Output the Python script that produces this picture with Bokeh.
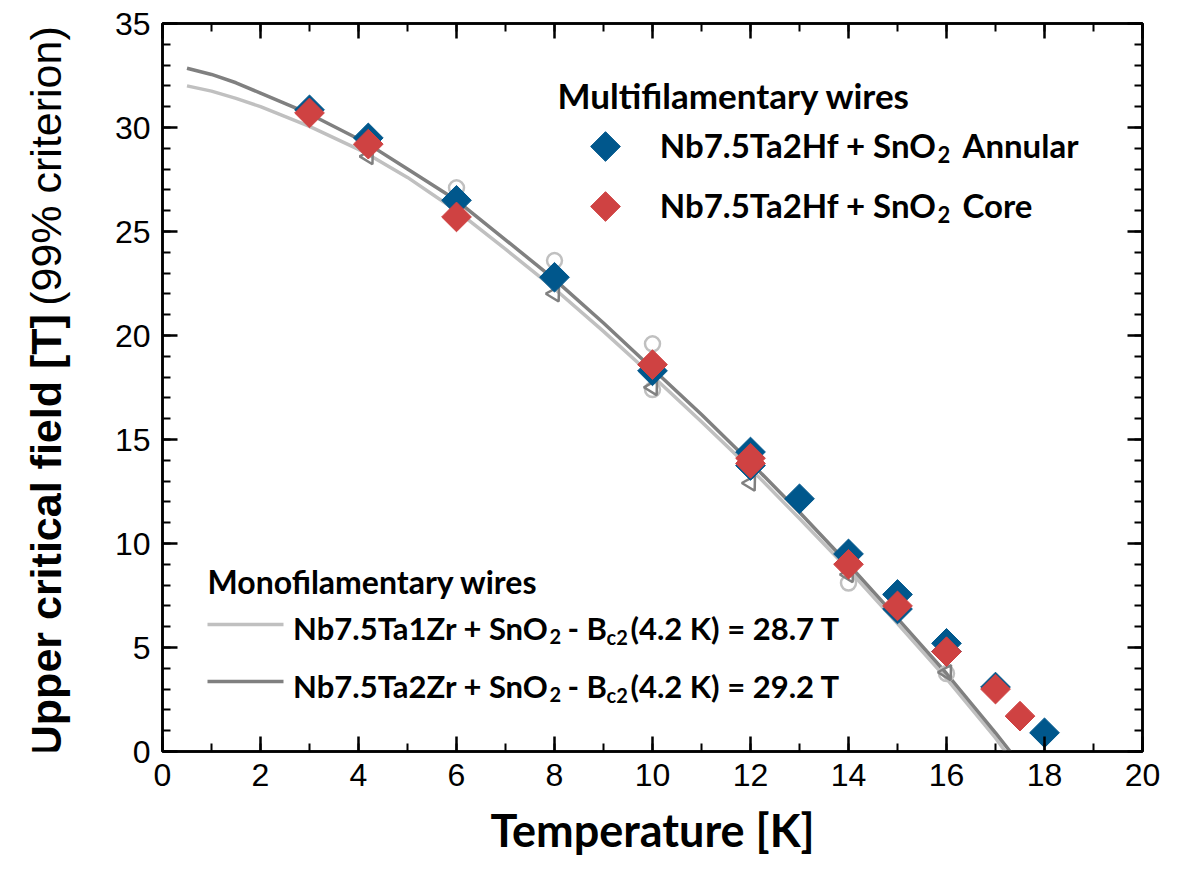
import math
from bokeh.plotting import figure
from bokeh.layouts import row
from bokeh.models import Range1d, SingleIntervalTicker, LinearAxis, Label, CustomJSTickFormatter
from bokeh.embed import file_html
from bokeh.resources import INLINE

# ---- data -------------------------------------------------------------
# Bc2(T) fit curves of the monofilamentary wires
fit_1zr_T = [0.5, 1, 1.5, 2, 3, 4, 4.2, 5, 6, 7, 8, 9, 10, 11, 12, 13, 14, 15, 16, 17, 17.2]
fit_1zr_B = [32.0, 31.75, 31.4, 31.0, 30.05, 28.95, 28.7, 27.6, 26.0, 24.15, 22.25, 20.2,
             18.05, 15.85, 13.6, 11.2, 8.75, 6.15, 3.5, 0.65, 0.0]
fit_2zr_T = [0.5, 1, 1.5, 2, 3, 4, 4.2, 5, 6, 7, 8, 9, 10, 11, 12, 13, 14, 15, 16, 17, 17.3]
fit_2zr_B = [32.85, 32.55, 32.15, 31.65, 30.65, 29.45, 29.2, 28.0, 26.5, 24.6, 22.7, 20.6,
             18.4, 16.2, 13.9, 11.5, 9.0, 6.4, 3.75, 0.9, 0.0]

# measured points of the monofilamentary wires
mono_circ_T = [6, 8, 10, 10, 14, 16]
mono_circ_B = [27.1, 23.6, 19.6, 17.4, 8.1, 3.75]
mono_tri_T = [4.2, 8, 10, 12, 14, 16]
mono_tri_B = [28.6, 22.0, 17.5, 12.9, 8.5, 3.8]

# multifilamentary wires
annular_T = [3, 4.2, 6, 8, 10, 12, 12, 13, 14, 15, 15, 16, 16, 17, 18]
annular_B = [30.85, 29.5, 26.5, 22.8, 18.3, 14.4, 13.75, 12.15, 9.5, 7.55, 6.85,
             5.2, 4.8, 3.1, 0.9]
core_T = [3, 4.2, 6, 10, 12, 12, 14, 15, 16, 17, 17.5]
core_B = [30.7, 29.2, 25.7, 18.6, 14.1, 13.85, 9.0, 7.0, 4.8, 3.0, 1.7]

x_ticks_interval = 2
y_ticks_interval = 5

# ---- styling ----------------------------------------------------------
BLUE = "#00578C"
RED = "#CF4242"
LIGHT = "#C0C0C0"
DARK = "#808080"
LEGEND_FONT = "Lato"
TICK_FONT = "Liberation Sans"

W, H = 1187, 869
LW = 100                              # width of the strip holding the y title
FL, FR, FT, FB = 162, 1142, 23, 751   # plot frame in page pixels
X0, X1, Y0, Y1 = 0, 20, 0, 35


def dx(px):
    """page pixel column -> temperature units"""
    return X0 + (px - FL) * (X1 - X0) / (FR - FL)


def dy(py):
    """page pixel row -> field units"""
    return Y0 + (FB - py) * (Y1 - Y0) / (FB - FT)


# ---- y axis title strip ----------------------------------------------
ytitle = figure(width=LW, height=H, x_range=Range1d(0, LW), y_range=Range1d(0, H),
                output_backend="svg", toolbar_location=None,
                x_axis_location=None, y_axis_location=None, min_border=0)
ytitle.outline_line_color = None
ytitle.xgrid.visible = False
ytitle.ygrid.visible = False
ytitle.background_fill_color = "white"
ytitle.border_fill_color = "white"
ytitle.add_layout(Label(x=45, y=H - 347, text="Upper critical field [T]", angle=math.pi / 2,
                        text_align="right", text_baseline="middle", text_font=TICK_FONT,
                        text_font_style="bold", text_font_size="43px", text_color="black"))
ytitle.add_layout(Label(x=45, y=H - 337, text="(99% criterion)", angle=math.pi / 2,
                        text_align="left", text_baseline="middle", text_font=TICK_FONT,
                        text_font_style="normal", text_font_size="43px", text_color="black"))

# ---- main plot --------------------------------------------------------
p = figure(width=W - LW, height=H, x_range=Range1d(X0, X1), y_range=Range1d(Y0, Y1),
           output_backend="svg", toolbar_location=None,
           min_border_left=FL - LW, min_border_right=W - FR,
           min_border_top=FT, min_border_bottom=H - FB)
p.background_fill_color = "white"
p.border_fill_color = "white"
p.outline_line_color = "black"
p.outline_line_width = 2.5
p.xgrid.visible = False
p.ygrid.visible = False

p.add_layout(LinearAxis(), "above")
p.add_layout(LinearAxis(), "right")


def style_axis(ax, interval, minor, labels):
    ax.ticker = SingleIntervalTicker(interval=interval, num_minor_ticks=minor)
    ax.axis_line_width = 2.5
    ax.axis_line_color = "black"
    ax.major_tick_in = 15
    ax.major_tick_out = 0
    ax.minor_tick_in = 8
    ax.minor_tick_out = 0
    ax.major_tick_line_width = 2.5
    ax.minor_tick_line_width = 2
    ax.major_tick_line_color = "black"
    ax.minor_tick_line_color = "black"
    if labels:
        ax.major_label_text_font = TICK_FONT
        ax.major_label_text_font_size = "32px"
        ax.major_label_text_color = "black"
        ax.major_label_standoff = 12
    else:
        # mirrored frame ticks only
        ax.formatter = CustomJSTickFormatter(code="return ''")
        ax.major_label_text_font_size = "1px"
        ax.major_label_standoff = 0


style_axis(p.below[0], x_ticks_interval, 2, True)
style_axis(p.above[0], x_ticks_interval, 2, False)
style_axis(p.left[0], y_ticks_interval, 5, True)
style_axis(p.right[0], y_ticks_interval, 5, False)

xa = p.below[0]
xa.axis_label = "Temperature [K]"
xa.axis_label_text_font = LEGEND_FONT
xa.axis_label_text_font_style = "bold"
xa.axis_label_text_font_size = "45px"
xa.axis_label_standoff = 14
xa.axis_label_text_color = "black"

# ---- curves and points -----------------------------------------------
p.line(fit_1zr_T, fit_1zr_B, line_color=LIGHT, line_width=3.5)
p.line(fit_2zr_T, fit_2zr_B, line_color=DARK, line_width=3.5)

p.scatter(mono_circ_T, mono_circ_B, marker="circle", size=15, fill_color=None,
          line_color=LIGHT, line_width=2.5)
p.scatter(mono_tri_T, mono_tri_B, marker="inverted_triangle", size=15, fill_color=None,
          line_color=DARK, line_width=2.5, angle=0.5)

p.scatter(annular_T, annular_B, marker="square", angle=math.pi / 4, size=21,
          fill_color=BLUE, line_color=BLUE, line_width=1)
p.scatter(core_T, core_B, marker="square", angle=math.pi / 4, size=21,
          fill_color=RED, line_color=RED, line_width=1)


# ---- legends ----------------------------------------------------------
def txt(px, py, s, size, align="left", style="bold", baseline="alphabetic"):
    p.add_layout(Label(x=dx(px), y=dy(py), text=s, text_align=align,
                       text_baseline=baseline, text_font=LEGEND_FONT,
                       text_font_style=style, text_font_size=size, text_color="black"))


# multifilamentary block
txt(557, 94, "Multifilamentary wires", "35px")
p.scatter([dx(605)], [dy(146)], marker="square", angle=math.pi / 4, size=21,
          fill_color=BLUE, line_color=BLUE)
p.scatter([dx(605)], [dy(206)], marker="square", angle=math.pi / 4, size=21,
          fill_color=RED, line_color=RED)
for base, tail in ((144, "Annular"), (204, "Core")):
    txt(936, base, "Nb7.5Ta2Hf + SnO", "33px", align="right")
    txt(937, base + 10, "2", "22px")
    txt(962, base, tail, "33px")

# monofilamentary block
txt(207, 581, "Monofilamentary wires", "32px")
p.segment(x0=[dx(207)], y0=[dy(624)], x1=[dx(283)], y1=[dy(624)], line_color=LIGHT, line_width=3.5)
p.segment(x0=[dx(207)], y0=[dy(681)], x1=[dx(283)], y1=[dy(681)], line_color=DARK, line_width=3.5)
xa_end = 548
for base, name, val in ((627, "Nb7.5Ta1Zr", "28.7"), (685, "Nb7.5Ta2Zr", "29.2")):
    txt(xa_end, base, name + " + SnO", "31px", align="right")
    txt(xa_end + 1, base + 9, "2", "20px")
    txt(xa_end + 19, base, "- B", "31px")
    txt(xa_end + 58, base + 9, "c2", "20px")
    txt(xa_end + 82, base, "(4.2 K) = " + val + " T", "31px")

page = row(ytitle, p, spacing=0)
open("out.html", "w").write(file_html(page, INLINE))
